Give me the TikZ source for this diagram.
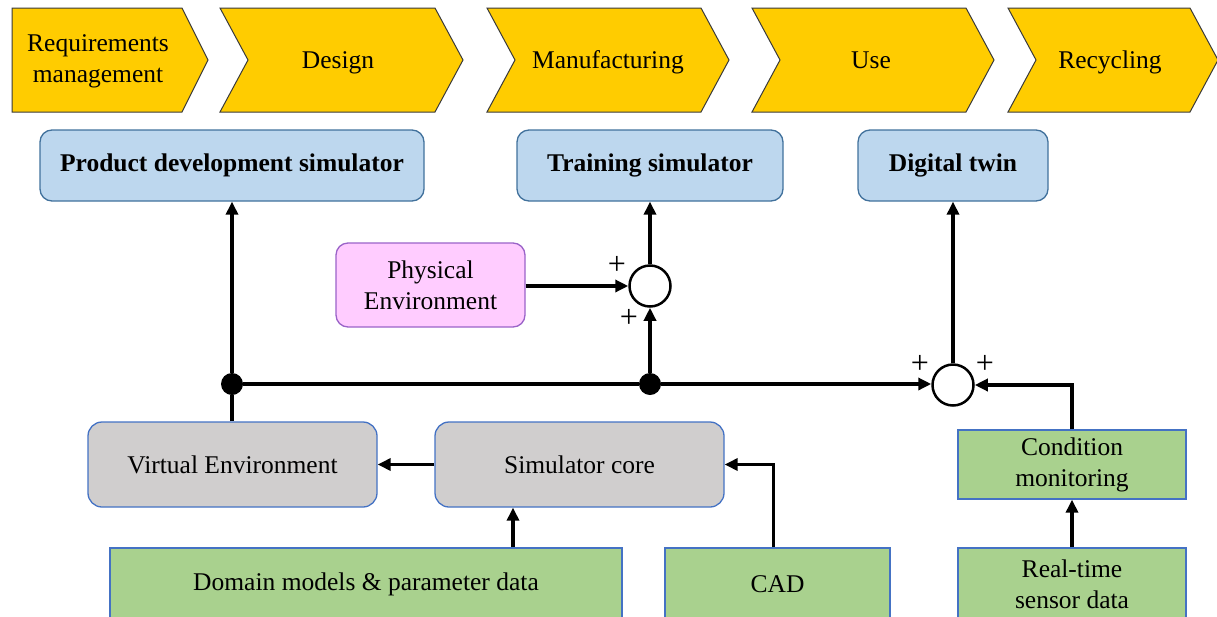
\documentclass[tikz,border=0pt]{standalone}
\usepackage{fontspec}
\setmainfont{Liberation Serif}
\usetikzlibrary{arrows.meta}
\definecolor{chev}{HTML}{FFCC00}
\definecolor{chevline}{HTML}{3A3A3A}
\definecolor{bluefill}{HTML}{BDD7EE}
\definecolor{blueline}{HTML}{41719C}
\definecolor{pinkfill}{HTML}{FFCCFF}
\definecolor{pinkline}{HTML}{9A63C8}
\definecolor{grayfill}{HTML}{D0CECE}
\definecolor{greenfill}{HTML}{A9D18E}
\definecolor{boxline}{HTML}{4472C4}
\tikzset{
  txt/.style={font=\fontsize{25.5}{31}\selectfont, align=center},
  oneline/.style={txt, text height=17pt, text depth=5pt},
  phase/.style={fill=chev, draw=chevline, line width=1pt},
  goalbox/.style={txt, font=\fontsize{25.5}{31}\selectfont\bfseries, fill=bluefill, draw=blueline, line width=1.3pt, rounded corners=12pt, inner sep=0pt},
  physbox/.style={txt, fill=pinkfill, draw=pinkline, line width=1.3pt, rounded corners=12pt, inner sep=0pt},
  corebox/.style={txt, fill=grayfill, draw=boxline, line width=1.3pt, rounded corners=14pt, inner sep=0pt},
  databox/.style={txt, fill=greenfill, draw=boxline, line width=1.3pt, inner sep=0pt},
  sumpt/.style={circle, draw, line width=2.5pt, fill=white, minimum size=41pt, inner sep=0pt},
  joint/.style={circle, fill=black, minimum size=22pt, inner sep=0pt},
  flow/.style={line width=3.5pt, -{Triangle[length=13pt,width=12pt]}},
  wire/.style={line width=3.5pt},
  sign/.style={font=\fontsize{32}{32}\selectfont, inner sep=0pt},
}
\begin{document}
\begin{tikzpicture}[x=1pt, y=-1pt]
\useasboundingbox (0,0) rectangle (1217,616);
\clip (0,0) rectangle (1217,616);

% lifecycle phases
\draw[phase] (12,8) -- (182,8) -- (208,60) -- (182,112) -- (12,112) -- cycle;
\draw[phase] (220,8) -- (435,8) -- (463,60) -- (435,112) -- (220,112) -- (248,60) -- cycle;
\draw[phase] (487,8) -- (701,8) -- (729,60) -- (701,112) -- (487,112) -- (515,60) -- cycle;
\draw[phase] (752,8) -- (966,8) -- (994,60) -- (966,112) -- (752,112) -- (780,60) -- cycle;
\draw[phase] (1008,8) -- (1190,8) -- (1218,60) -- (1190,112) -- (1008,112) -- (1036,60) -- cycle;
\node[txt] (req) at (98,61) {Requirements\\management};
\node[oneline] (des) at (338,62) {Design};
\node[oneline] (man) at (608,62) {Manufacturing};
\node[oneline] (use) at (871,62) {Use};
\node[oneline] (rec) at (1110,62) {Recycling};

% simulators
\node[goalbox, minimum width=384pt, minimum height=71pt] (pds) at (232,165.5) {Product development simulator};
\node[goalbox, minimum width=266pt, minimum height=71pt] (train) at (650,165.5) {Training simulator};
\node[goalbox, minimum width=190pt, minimum height=71pt] (twin) at (953,165.5) {Digital twin};

\node[physbox, minimum width=189pt, minimum height=84pt] (phys) at (430.5,285) {Physical\\Environment};

% simulation chain
\node[corebox, minimum width=289pt, minimum height=85pt] (venv) at (232.5,464.5) {Virtual Environment};
\node[corebox, minimum width=289pt, minimum height=85pt] (core) at (579.5,464.5) {Simulator core};

% data sources
\node[databox, minimum width=512pt, minimum height=72pt] (dom) at (366,584) {Domain models \& parameter data};
\node[databox, minimum width=225pt, minimum height=72pt] (cad) at (777.5,584) {CAD};
\node[databox, minimum width=228pt, minimum height=69pt] (cm) at (1072,464.5) {Condition\\monitoring};
\node[databox, minimum width=228pt, minimum height=72pt] (rt) at (1072,584) {Real-time\\sensor data};

% summing points and branch points
\node[sumpt] (s1) at (650,286) {};
\node[sumpt] (s2) at (953,385) {};
\node[joint] (j1) at (232,384) {};
\node[joint] (j2) at (650,384) {};
\node[sign] (p1) at (617,265) {+};
\node[sign] (p2) at (629,318) {+};
\node[sign] (p3) at (920,364) {+};
\node[sign] (p4) at (985,364) {+};

% connectors
\draw[wire] (venv.north -| j1) -- (j1);
\draw[flow] (j1) -- (pds.south -| j1);
\draw[wire] (j1) -- (j2);
\draw[flow] (j2) -- (s2.west |- j2);
\draw[flow] (j2) -- (s1);
\draw[flow] (phys.east |- s1) -- (s1);
\draw[flow] (s1) -- (train);
\draw[flow] (s2) -- (twin.south -| s2);
\draw[flow] (cm.north) |- (s2);
\draw[flow] (rt) -- (cm);
\draw[flow] (core) -- (venv);
\draw[flow] ([xshift=-4pt]cad.north) |- (core.east);
\draw[flow] (dom.north -| 513,0) -- (core.south -| 513,0);
\end{tikzpicture}
\end{document}
